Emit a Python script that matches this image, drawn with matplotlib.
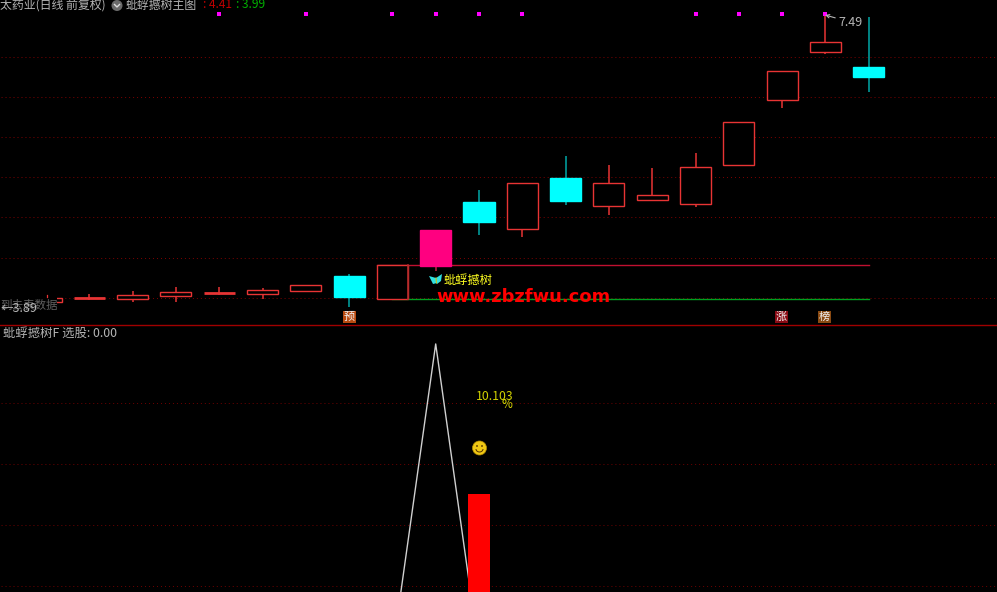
import matplotlib
matplotlib.use("Agg")
import matplotlib.pyplot as plt
from matplotlib.patches import Rectangle, Circle, Polygon, Arc

plt.rcParams['font.family'] = ['Noto Sans CJK SC', 'DejaVu Sans']

# ---------- data ----------
opens  = [3.920, 3.968, 3.956, 3.993, 4.030, 4.011, 4.055, 4.234, 3.948, 4.356,
          5.156, 4.821, 5.454, 5.107, 5.181, 5.132, 5.616, 6.423, 7.018, 6.832]
closes = [3.965, 3.968, 3.998, 4.035, 4.030, 4.060, 4.122, 3.981, 4.374, 4.809,
          4.914, 5.392, 5.169, 5.392, 5.243, 5.591, 6.149, 6.783, 7.143, 6.702]
highs  = [3.993, 4.014, 4.048, 4.097, 4.097, 4.085, 4.122, 4.259, 4.374, 4.809,
          5.305, 5.392, 5.727, 5.616, 5.578, 5.765, 6.149, 6.783, 7.490, 7.453]
lows   = [3.920, 3.940, 3.919, 3.919, 4.006, 3.948, 4.055, 3.857, 3.948, 4.303,
          4.747, 4.722, 5.119, 4.995, 5.181, 5.094, 5.616, 6.327, 6.994, 6.522]
pink_days = [9]
signal_days = [4, 6, 8, 9, 10, 11, 15, 16, 17, 18]
band_top = 4.374
band_bottom = 3.948
band_start = 8
band_end = 19
price_grid = [6.956, 6.460, 5.960, 5.463, 4.967, 4.461, 3.965]

osc_days = [8, 9, 10]
osc_line = [-6.2, 25.5, -6.2]
bar_day = [10]
bar_value = [10.103]
osc_grid = [19.4, 13.2, 6.9, 0.6]

# ---------- layout ----------
W, H = 997, 592
BG = 'black'
fig = plt.figure(figsize=(W / 100, H / 100), dpi=100, facecolor=BG)
split = 324.5
ax1 = fig.add_axes([0, 1 - split / H, 1, split / H], facecolor=BG)
ax2 = fig.add_axes([0, 0, 1, 1 - split / H], facecolor=BG)
px = fig.add_axes([0, 0, 1, 1], facecolor='none')
px.set_xlim(0, W); px.set_ylim(H, 0)
X0 = 46.0
xlim = (-X0 / 43.3, (W - X0) / 43.3)
ax1.set_xlim(*xlim); ax1.set_ylim(3.636, 7.664)
ax2.set_xlim(*xlim); ax2.set_ylim(0, 27.5)
for a in (ax1, ax2, px):
    a.axis('off')

LW = 0.9
BW = 0.72
RED = '#E83434'
CYAN = '#00FFFF'
PINK = '#FF0080'

for g in price_grid:
    ax1.axhline(g, color='#800000', lw=0.7, ls=(3, (1, 3.1)), zorder=1)
for g in osc_grid:
    ax2.axhline(g, color='#700000', lw=0.7, ls=(3, (1, 3.1)), zorder=1)

# band
ax1.plot([band_start - BW / 2, band_end], [band_top, band_top], color='#C01030', lw=1.0, zorder=2)
ax1.plot([band_start, band_end], [band_bottom, band_bottom], color='#00A020', lw=1.0, zorder=2)

# candles
for i, (o, c, h, l) in enumerate(zip(opens, closes, highs, lows)):
    top, bot = max(o, c), min(o, c)
    if i in pink_days:
        col, face = '#C02040', PINK
        edge = PINK
    elif c < o:
        col, face, edge = '#00A8A8', CYAN, CYAN
    else:
        col, face, edge = RED, BG, RED
    ax1.plot([i, i], [l, h], color=col, lw=LW + 0.2, zorder=3, solid_capstyle='butt')
    if top == bot:
        ax1.plot([i - BW / 2, i + BW / 2], [top, top], color=RED, lw=2.0, zorder=4, solid_capstyle='butt')
    else:
        ax1.add_patch(Rectangle((i - BW / 2, bot), BW, top - bot, facecolor=face,
                                edgecolor=edge, lw=LW + 0.1, zorder=4))

# divider in band candle
ax1.plot([band_start + BW / 2] * 2, [band_bottom, band_top], color='#B02A2A', lw=1.2, zorder=5)

# signal dots
ax1.scatter(signal_days, [7.485] * len(signal_days), marker='s', s=6, color='#FF00FF', lw=0, zorder=6)

# oscillator
ax2.plot(osc_days, osc_line, color='#D0D0D0', lw=1.0, zorder=3)
ax2.bar(bar_day, bar_value, width=22 / 43.3, color='#FF0000', zorder=4)

px.plot([0, W], [324.5, 324.5], color='#A00000', lw=1.0, zorder=10)

# ---------- header text ----------
GREY = '#B4B4B4'
px.text(0, 5.0, '太药业(日线 前复权)', color=GREY, fontsize=8.6, va='center', ha='left')
px.add_patch(Circle((117, 5.5), 5.5, facecolor='#6A6A6A', edgecolor='none'))
px.plot([114.5, 117, 119.5], [4.5, 7, 4.5], color='#DDDDDD', lw=1)
px.text(126, 5.0, '蚍蜉撼树主图', color=GREY, fontsize=8.6, va='center', ha='left')
px.text(203, 5.0, ': 4.41', color='#C00000', fontsize=8.6, va='center', ha='left')
px.text(236, 5.0, ': 3.99', color='#00B000', fontsize=8.6, va='center', ha='left')

# high and low labels
px.annotate('7.49', xy=(825, 15), xytext=(838, 22), color=GREY, fontsize=9, va='center', ha='left',
            arrowprops=dict(arrowstyle='->', color=GREY, lw=0.8, shrinkA=0, shrinkB=0, mutation_scale=6))
px.add_patch(Rectangle((0, 296), 57, 20, facecolor=BG, edgecolor='none', zorder=7))
px.plot([47, 47], [295, 296.5], color=RED, lw=0.9, zorder=8)
px.text(0, 305, '到去表数据', color='#606060', fontsize=8.3, va='center', ha='left', zorder=8)
px.text(1, 308, '←3.89', color='#B8B8B8', fontsize=9, va='center', ha='left', zorder=9)

# tags
for (x, t, c) in [(349.5, '预', '#B84A10'), (781.5, '涨', '#8A0A14'), (824.5, '榜', '#8A4A12')]:
    px.add_patch(Rectangle((x - 6.5, 310.5), 13, 12.5, facecolor=c, edgecolor='none', zorder=6))
    px.text(x, 316.5, t, color='#F0F0F0', fontsize=8, ha='center', va='center', zorder=7)

# butterfly
px.add_patch(Polygon([[429, 276], [436, 278], [437, 283], [433, 284]],
                     closed=True, facecolor='#30E0E0', edgecolor='none', zorder=6))
px.add_patch(Polygon([[436, 278], [442, 274], [441, 281], [437, 284]],
                     closed=True, facecolor='#30E0E0', edgecolor='none', zorder=6))
px.plot([436, 436.5], [278, 283], color='#C8C820', lw=0.8, zorder=7)
px.text(444, 280.5, '蚍蜉撼树', color='#FFFF20', fontsize=8.8, va='center', ha='left', zorder=6)

# watermark
px.text(436, 296.5, 'www.zbzfwu.com', color='#FF0000', fontsize=12.9, fontweight='bold',
        family='DejaVu Sans', va='center', ha='left', zorder=7)

# lower panel texts
px.text(3, 333, '蚍蜉撼树F 选股: 0.00', color=GREY, fontsize=8.9, va='center', ha='left')
px.text(476, 397, '10.103', color='#D0D000', fontsize=8.8, va='center', ha='left')
px.text(507, 404, '%', color='#E0E000', fontsize=8.5, va='center', ha='center')

# smiley
px.add_patch(Circle((479.5, 448), 7, facecolor='#F0C814', edgecolor='#B89000', lw=0.5, zorder=6))
px.add_patch(Circle((477, 446), 0.9, facecolor='#503000', edgecolor='none', zorder=7))
px.add_patch(Circle((482, 446), 0.9, facecolor='#503000', edgecolor='none', zorder=7))
px.add_patch(Arc((479.5, 449), 7, 6, theta1=0, theta2=180, color='#503000', lw=0.7, zorder=7))

fig.savefig('out.png', dpi=100, facecolor=BG)
